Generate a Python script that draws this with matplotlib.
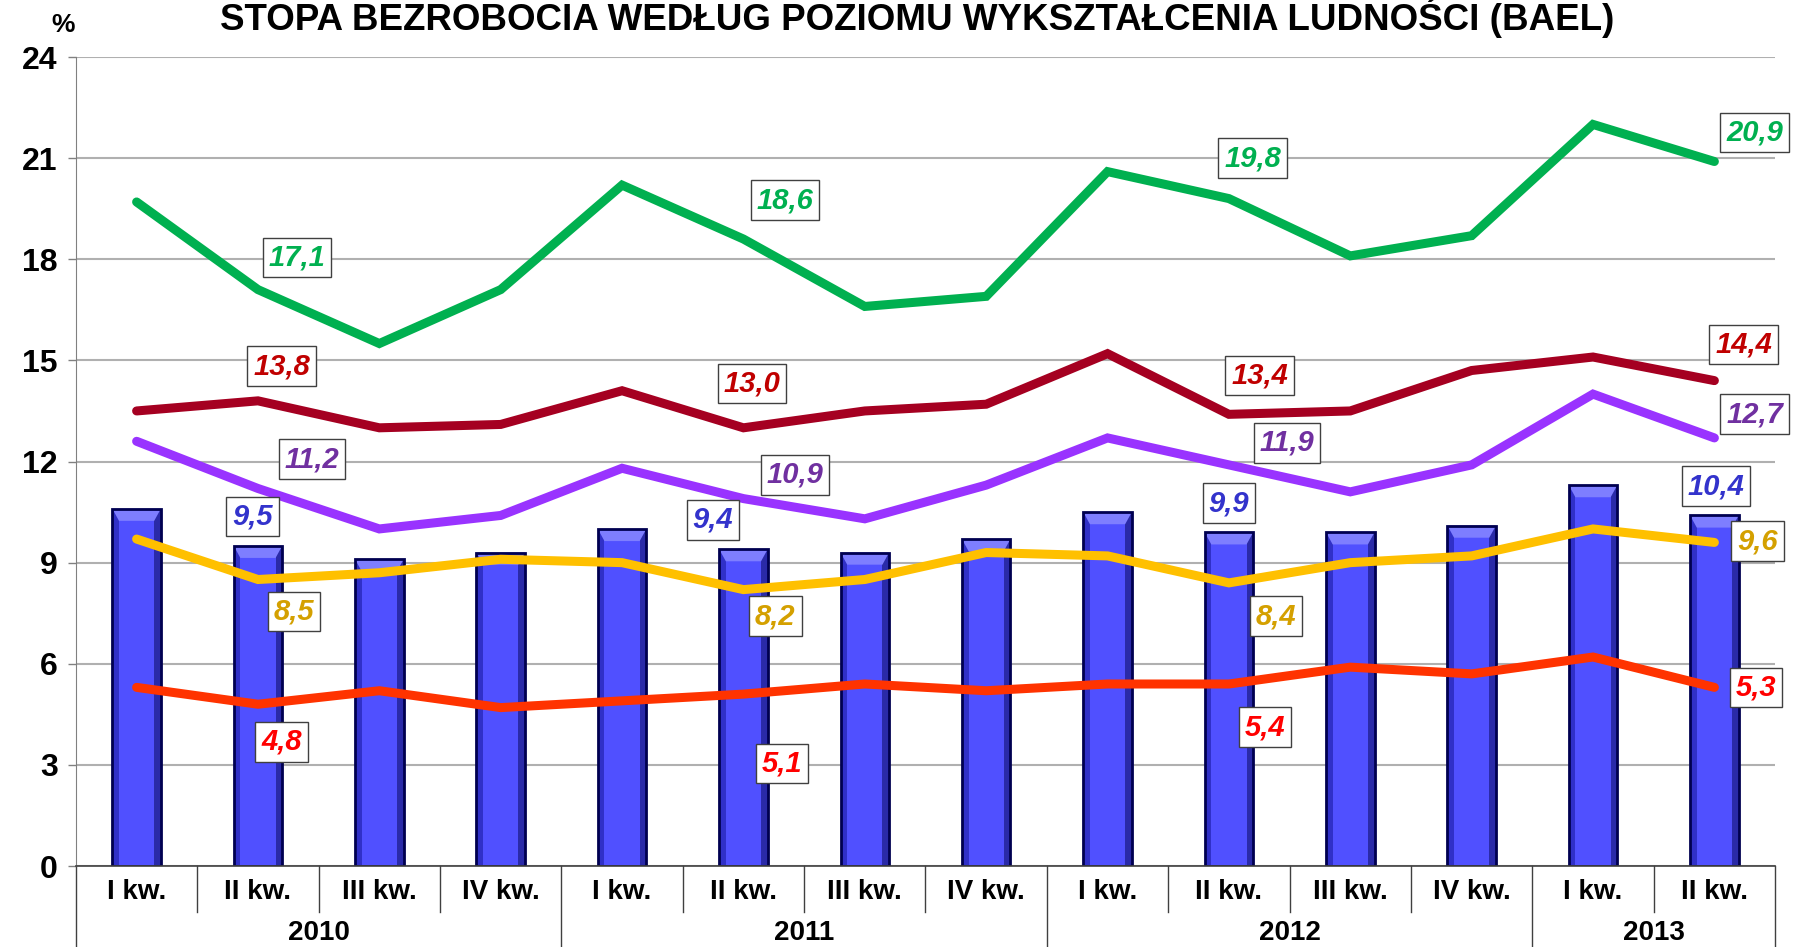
import numpy as np
import matplotlib.pyplot as plt
from matplotlib.patches import Rectangle, Polygon
from matplotlib.transforms import blended_transform_factory

plt.rcParams['font.family'] = ['Liberation Sans Narrow', 'Liberation Sans', 'DejaVu Sans']
plt.rcParams['font.weight'] = 'bold'

# dane
quarters = ['I kw.', 'II kw.', 'III kw.', 'IV kw.'] * 3 + ['I kw.', 'II kw.']
years = ['2010', '2011', '2012', '2013']
year_len = [4, 4, 4, 2]

ogolem = [10.6, 9.5, 9.1, 9.3, 10.0, 9.4, 9.3, 9.7, 10.5, 9.9, 9.9, 10.1, 11.3, 10.4]
gimn = [19.7, 17.1, 15.5, 17.1, 20.2, 18.6, 16.6, 16.9, 20.6, 19.8, 18.1, 18.7, 22.0, 20.9]
zaw = [13.5, 13.8, 13.0, 13.1, 14.1, 13.0, 13.5, 13.7, 15.2, 13.4, 13.5, 14.7, 15.1, 14.4]
sr_og = [12.6, 11.2, 10.0, 10.4, 11.8, 10.9, 10.3, 11.3, 12.7, 11.9, 11.1, 11.9, 14.0, 12.7]
pol = [9.7, 8.5, 8.7, 9.1, 9.0, 8.2, 8.5, 9.3, 9.2, 8.4, 9.0, 9.2, 10.0, 9.6]
wyzsze = [5.3, 4.8, 5.2, 4.7, 4.9, 5.1, 5.4, 5.2, 5.4, 5.4, 5.9, 5.7, 6.2, 5.3]

labelled = [1, 5, 9, 13]

# styl: (dane, kolor linii, kolor etykiety, przesunięcia etykiet w pt)
lines = [
    (gimn, '#00B050', '#00B050', [(28, 23), (30, 28), (17, 29), (29, 21)]),
    (zaw, '#A50021', '#C00000', [(17, 25), (6, 32), (22, 28), (21, 26)]),
    (sr_og, '#9933FF', '#7030A0', [(39, 21), (37, 17), (42, 16), (29, 17)]),
    (pol, '#FFC000', '#D4A000', [(26, -23), (23, -19), (34, -24), (31, 1)]),
    (wyzsze, '#FF3300', '#FF0000', [(17, -27), (28, -50), (26, -31), (30, 0)]),
]
bar_offsets = [(-4, 21), (-22, 21), (0, 21), (1, 21)]

fig = plt.figure(figsize=(17.99, 9.47), dpi=100)
ax = fig.add_axes([0.0422, 0.0855, 0.9445, 0.8543])

x = np.arange(len(quarters))
w = 0.4

# słupki z fazą
for xi, h in zip(x, ogolem):
    ax.add_patch(Rectangle((xi - w / 2, 0), w, h, facecolor='#5050FF', edgecolor='none', zorder=2))
    s = 0.055
    ax.add_patch(Rectangle((xi - w / 2, 0), s, h, facecolor='#3030C8', edgecolor='none', zorder=2.1))
    ax.add_patch(Rectangle((xi + w / 2 - s, 0), s, h, facecolor='#2A2AA8', edgecolor='none', zorder=2.1))
    bev = 0.36
    ax.add_patch(Polygon([(xi - w / 2, h), (xi + w / 2, h), (xi + w / 2 - s, h - bev), (xi - w / 2 + s, h - bev)],
                         closed=True, facecolor='#7E7EFF', edgecolor='none', zorder=2.2))
    ax.add_patch(Rectangle((xi - w / 2, 0), w, h, facecolor='none', edgecolor='#000050', lw=2, zorder=2.3))

for vals, c, lc, offs in lines:
    ax.plot(x, vals, color=c, lw=6.5, solid_capstyle='round', solid_joinstyle='miter', zorder=3)
    for i, (dx, dy) in zip(labelled, offs):
        ax.annotate(f'{vals[i]:.1f}'.replace('.', ','), (x[i], vals[i]), xytext=(dx, dy),
                    textcoords='offset points', ha='center', va='center', color=lc,
                    fontsize=21, fontweight='bold', style='italic', family=['Liberation Sans', 'DejaVu Sans'],
                    annotation_clip=False, zorder=5,
                    bbox=dict(boxstyle='square,pad=0.2', fc='white', ec='#404040', lw=1))

for i, (dx, dy) in zip(labelled, bar_offsets):
    ax.annotate(f'{ogolem[i]:.1f}'.replace('.', ','), (x[i], ogolem[i]), xytext=(dx, dy),
                textcoords='offset points', ha='center', va='center', color='#3333CC',
                fontsize=21, fontweight='bold', style='italic', family=['Liberation Sans', 'DejaVu Sans'],
                annotation_clip=False, zorder=5,
                bbox=dict(boxstyle='square,pad=0.2', fc='white', ec='#404040', lw=1))

ax.set_xlim(-0.5, len(quarters) - 0.5)
ax.set_ylim(0, 24)
ax.set_yticks(range(0, 25, 3))
ax.tick_params(axis='y', labelsize=23, length=6, width=1, pad=7, color='#808080')
ax.grid(axis='y', color='#B0B0B0', lw=1.5, zorder=0)
ax.set_axisbelow(True)
for sp in ['top', 'right']:
    ax.spines[sp].set_visible(False)
ax.spines['left'].set_color('#808080')
ax.spines['bottom'].set_color('#404040')
ax.spines['bottom'].set_linewidth(1.2)

ax.set_xticks(x)
ax.set_xticklabels(quarters, fontsize=20)
ax.tick_params(axis='x', length=0, pad=9)

# oś dwupoziomowa
tr = blended_transform_factory(ax.transData, ax.transAxes)
bounds = np.cumsum([0] + year_len) - 0.5
for b in np.arange(-0.5, len(quarters)):
    if b in bounds:
        ax.plot([b, b], [0, -0.1], transform=tr, color='#404040', lw=1, clip_on=False)
    else:
        ax.plot([b, b], [0, -0.057], transform=tr, color='#404040', lw=1, clip_on=False)
for y, a, b in zip(years, bounds[:-1], bounds[1:]):
    ax.text((a + b) / 2, -0.083, y, transform=tr, ha='center', va='center', fontsize=20)

fig.text(0.035, 1 - 25 / 947, '%', ha='center', va='center', fontsize=19)
fig.text(0.51, 1 - 30 / 947, 'STOPA BEZROBOCIA WEDŁUG POZIOMU WYKSZTAŁCENIA LUDNOŚCI (BAEL)',
         ha='center', va='baseline', fontsize=26.5)

fig.savefig('out.png', dpi=100)
